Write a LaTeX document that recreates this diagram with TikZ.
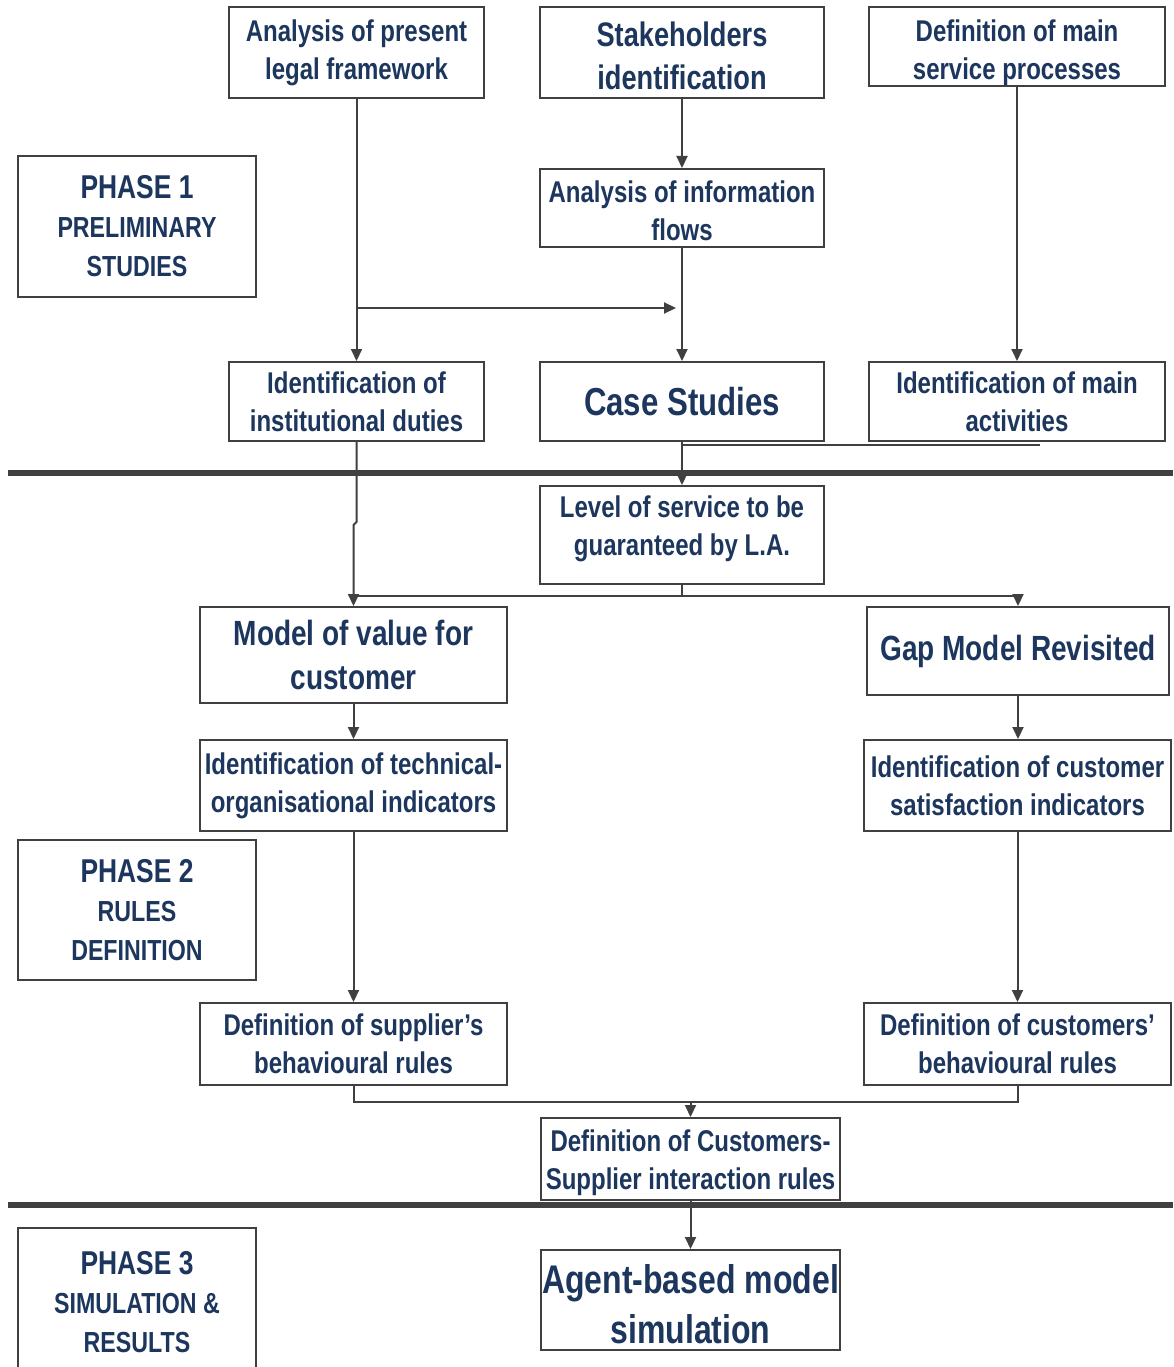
\documentclass[tikz,border=0pt]{standalone}
\usepackage{fontspec}
\setmainfont{Liberation Sans}[FakeStretch=0.8]
\usetikzlibrary{arrows.meta}
\definecolor{navy}{RGB}{28,54,94}
\definecolor{ink}{RGB}{64,64,64}
\begin{document}
\begin{tikzpicture}[x=1pt,y=-1pt,
  box/.style={draw=ink, line width=2pt, inner sep=0pt, align=center, text=navy},
  f30/.style={font=\bfseries\fontsize{30}{38}\selectfont},
  f35/.style={font=\bfseries\fontsize{35}{44}\selectfont},
  f40/.style={font=\bfseries\fontsize{40}{50}\selectfont},
  phase/.style={font=\bfseries\fontsize{29}{39}\selectfont},
  conn/.style={draw=ink, line width=2pt},
  arr/.style={conn, -{Triangle[length=12pt,width=11pt]}},
  sep/.style={draw=ink, line width=6pt}]
\clip (0,0) rectangle (1173,1367);
\fill[white] (0,0) rectangle (1173,1367);

% phase separators
\coordinate (s1l) at (8,473);   \coordinate (s1r) at (1173,473);
\coordinate (s2l) at (8,1205);  \coordinate (s2r) at (1173,1205);
\draw[sep] (s1l) -- (s1r);
\draw[sep] (s2l) -- (s2r);

% phase 1
\node[box, f30, minimum width=255, minimum height=91] (a) at (356.5,52.5) {Analysis of present\\legal framework};
\node[box, font=\bfseries\fontsize{34}{43}\selectfont, minimum width=284, minimum height=91] (s) at (682,52.5) {\rule{0pt}{31pt}Stakeholders\\identification};
\node[box, f30, minimum width=296, minimum height=79] (d) at (1017,46.5) {\rule{0pt}{34pt}Definition of main\\service processes};
\node[box, phase, minimum width=238, minimum height=141] (p1) at (137,226.5) {{\fontsize{33}{39}\selectfont PHASE 1}\\PRELIMINARY\\STUDIES};
\node[box, f30, minimum width=284, minimum height=78] (aif) at (682,208) {\rule{0pt}{28pt}Analysis of information\\flows};
\node[box, f30, minimum width=255, minimum height=79] (iid) at (356.5,401.5) {Identification of\\institutional duties};
\node[box, font=\bfseries\fontsize{39}{48}\selectfont, minimum width=284, minimum height=79] (cs) at (682,401.5) {Case Studies};
\node[box, f30, minimum width=296, minimum height=79] (ima) at (1017,401.5) {Identification of main\\activities};

% phase 2
\node[box, f30, minimum width=284, minimum height=98] (ls) at (682,535) {Level of service to be\\guaranteed by L.A.\\[-20pt]\mbox{}};
\node[box, f35, minimum width=307, minimum height=96] (mv) at (353.5,655) {Model of value for\\customer};
\node[box, f35, minimum width=302, minimum height=88] (gm) at (1018,651) {Gap Model Revisited};
\node[box, f30, minimum width=307, minimum height=91] (ito) at (353.5,785.5) {Identification of technical-\\organisational indicators};
\node[box, f30, minimum width=307, minimum height=91] (ics) at (1017.5,785.5) {Identification of customer\\satisfaction indicators};
\node[box, phase, minimum width=238, minimum height=140] (p2) at (137,910) {{\fontsize{33}{39}\selectfont PHASE 2}\\RULES\\DEFINITION};
\node[box, f30, minimum width=307, minimum height=82] (dsr) at (353.5,1044) {Definition of supplier’s\\behavioural rules};
\node[box, f30, minimum width=307, minimum height=82] (dcr) at (1017.5,1044) {Definition of customers’\\behavioural rules};
\node[box, f30, minimum width=299, minimum height=82] (dcs) at (690.5,1159) {\rule{0pt}{30pt}Definition of Customers-\\Supplier interaction rules};

% phase 3
\node[box, phase, minimum width=238, minimum height=148] (p3) at (137,1302) {{\fontsize{33}{39}\selectfont PHASE 3}\\SIMULATION \&\\RESULTS};
\node[box, f40, minimum width=299, minimum height=100] (ab) at (690.5,1300) {\rule{0pt}{37pt}Agent-based model\\simulation};

% connectors, phase 1
\draw[arr] (a.south) -- (iid.north);
\coordinate (lj) at (356.5,308);
\coordinate (lje) at (676,308);
\draw[arr] (lj) -- (lje);
\draw[arr] (s.south) -- (aif.north);
\draw[arr] (aif.south) -- (cs.north);
\draw[arr] (d.south) -- (ima.north);
\coordinate (stub) at (1040,445);
\draw[conn] (stub) -- (stub -| cs.south);
\draw[arr] (cs.south) -- (ls.north);

% connectors, phase 2
\draw[arr] (iid.south) -- (356.5,522) -- (353.5,525) -- (mv.north);
\coordinate (lsj) at (682,596);
\draw[conn] (ls.south) -- (lsj);
\draw[conn] (lsj) -- (lsj -| mv.north);
\draw[arr] (lsj) -- (lsj -| gm.north) -- (gm.north);
\draw[arr] (mv.south) -- (ito.north);
\draw[arr] (gm.south) -- (gm.south |- ics.north);
\draw[arr] (ito.south) -- (dsr.north);
\draw[arr] (ics.south) -- (dcr.north);
\coordinate (mj) at (690.5,1102);
\draw[conn] (dsr.south) -- (dsr.south |- mj) -- (dcr.south |- mj) -- (dcr.south);
\draw[arr] (mj) -- (dcs.north);

% connector, phase 3
\draw[arr] (dcs.south) -- (ab.north);
\end{tikzpicture}
\end{document}
